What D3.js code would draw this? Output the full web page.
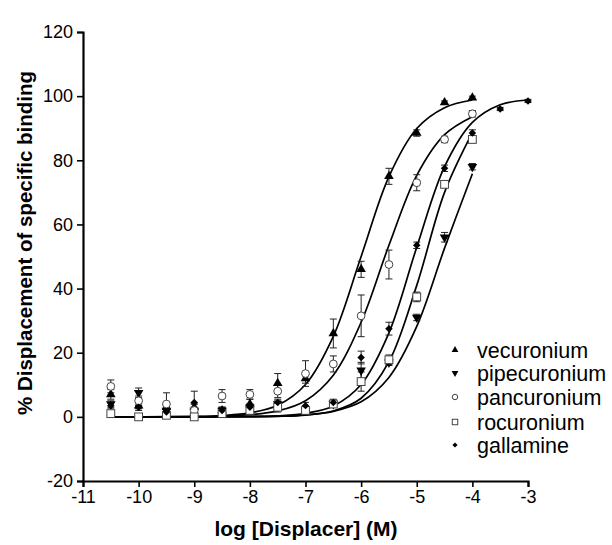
<!DOCTYPE html>
<html><head><meta charset="utf-8">
<script src="https://cdn.jsdelivr.net/npm/d3@7"></script>
<style>body{margin:0;background:#fff}svg{display:block}</style>
</head><body><svg id="c" width="612" height="545"></svg>
<script>
// ---- data ----
const xTicks = [-11,-10,-9,-8,-7,-6,-5,-4,-3];
const yTicks = [-20,0,20,40,60,80,100,120];
const logDose = [-10.5,-10,-9.5,-9,-8.5,-8,-7.5,-7,-6.5,-6,-5.5,-5,-4.5,-4];
const logDoseGall = [-10.5,-10,-9.5,-9,-8.5,-8,-7.5,-7,-6.5,-6,-5.5,-5,-4.5,-4,-3.5,-3];
const seriesNames = ["vecuronium","pipecuronium","pancuronium","rocuronium","gallamine"];

const vecuronium    = [7,3.5,3,3,2,4,10.5,12,26,46,75,88.5,98,99.5];
const vecuroniumErr = [1.5,1,1,1,1,1.5,3,1.5,4.5,2.5,2.5,1,0.5,0.5];
const pipecuronium    = [4,7.5,2,2,2,3,4,2,4,14.5,17,31,56,78];
const pipecuroniumErr = [1,1.5,1,1,1,1,1,1,1,2.5,1,1,1.5,1];
const pancuronium    = [9.5,5,4,2,6.5,7,8,13.5,16.5,31.5,47.5,73,86.5,94.5];
const pancuroniumErr = [2,1.5,3.5,2,2,1.5,2,4,2.5,6.5,4.5,2.5,1,1];
const rocuronium    = [1,0,0.5,0,1,2,3,2,4,11,17.8,37.4,72.5,86.5];
const rocuroniumErr = [0.5,0.5,0.5,0.5,0.5,1,1.5,1,1,3,1.5,1.5,1,1];
const gallamine    = [3.5,3,1.5,4.5,2,3,4.5,3.5,4.5,18.5,27.5,53.5,77.5,88.5,96,98.5];
const gallamineErr = [1,1,1,3.5,1,1,1,1,1,2,2,1,1,1,0.5,0.5];

// fitted curves, read at half-log steps
const vecuroniumFit   = [0,0.02,0.05,0.14,0.42,1.24,3.62,10.1,25.1,50,74.9,89.9,96.4,98.8];
const pipecuroniumFit = [0,0,0,0.01,0.03,0.08,0.22,0.62,1.73,4.7,12.3,28.2,52.6,75.8];
const pancuroniumFit  = [0,0.01,0.03,0.08,0.24,0.67,1.85,5.05,13.0,29.5,53.5,75.3,88.0,93.6];
const rocuroniumFit   = [0,0,0,0.01,0.02,0.05,0.17,0.55,1.82,5.8,17.2,41.0,70.0,88.6];
const gallamineFit    = [0,0.001,0.004,0.01,0.04,0.11,0.35,1.1,3.4,10.1,26.2,52.9,78,91.8,97.3,98.8];

// ---- drawing ----
const svg = d3.select("#c");
const x = d3.scaleLinear().domain([-11,-3]).range([83,528]);
const y = d3.scaleLinear().domain([-20,120]).range([481,32]);
const font = "'Liberation Sans', Arial, sans-serif";

const series = [
  {name:seriesNames[0], dose:logDose, v:vecuronium, e:vecuroniumErr, fit:vecuroniumFit, shape:"up"},
  {name:seriesNames[1], dose:logDose, v:pipecuronium, e:pipecuroniumErr, fit:pipecuroniumFit, shape:"down"},
  {name:seriesNames[2], dose:logDose, v:pancuronium, e:pancuroniumErr, fit:pancuroniumFit, shape:"circle"},
  {name:seriesNames[3], dose:logDose, v:rocuronium, e:rocuroniumErr, fit:rocuroniumFit, shape:"square"},
  {name:seriesNames[4], dose:logDoseGall, v:gallamine, e:gallamineErr, fit:gallamineFit, shape:"diamond"}
];

// axes
const xAxis = svg.append("g").attr("transform","translate(0,481)")
  .call(d3.axisBottom(x).tickValues(xTicks).tickSize(6).tickPadding(3).tickFormat(d=>d));
const yAxis = svg.append("g").attr("transform","translate(83,0)")
  .call(d3.axisLeft(y).tickValues(yTicks).tickSize(6).tickPadding(4).tickFormat(d=>d));
[xAxis,yAxis].forEach(a=>{
  a.select(".domain").attr("stroke","#000").attr("stroke-width",2.2);
  a.selectAll(".tick line").attr("stroke","#000").attr("stroke-width",1.6);
  a.selectAll(".tick text").attr("fill","#000").style("font-family",font).style("font-size","18px");
});

// axis titles
svg.append("text").attr("x",306).attr("y",536).attr("text-anchor","middle")
  .style("font-family",font).style("font-size","21px").style("font-weight","bold")
  .text("log [Displacer] (M)");
svg.append("text").attr("transform","translate(25,243) rotate(-90)").attr("text-anchor","middle")
  .attr("dy","0.35em")
  .style("font-family",font).style("font-size","20.5px").style("font-weight","bold")
  .text("% Displacement of specific binding");

// curves
const line = d3.line().x(d=>x(d[0])).y(d=>y(d[1])).curve(d3.curveCatmullRom.alpha(0.5));
series.forEach(s=>{
  svg.append("path").attr("d", line(s.dose.map((d,i)=>[d,s.fit[i]])))
    .attr("fill","none").attr("stroke","#000").attr("stroke-width",1.7);
});

// error bars
series.forEach(s=>{
  const g = svg.append("g").attr("stroke","#222").attr("stroke-width",1);
  s.dose.forEach((d,i)=>{
    const cx = x(d), lo = y(s.v[i]-s.e[i]), hi = y(s.v[i]+s.e[i]);
    g.append("line").attr("x1",cx).attr("x2",cx).attr("y1",lo).attr("y2",hi);
    g.append("line").attr("x1",cx-3.5).attr("x2",cx+3.5).attr("y1",hi).attr("y2",hi);
    g.append("line").attr("x1",cx-3.5).attr("x2",cx+3.5).attr("y1",lo).attr("y2",lo);
  });
});

// markers
function marker(g, shape, cx, cy, k){
  if(shape==="up"){
    g.append("path").attr("d",d3.symbol(d3.symbolTriangle, 40*k*k)()).attr("transform",`translate(${cx},${cy})`).attr("fill","#000");
  } else if(shape==="down"){
    g.append("path").attr("d",d3.symbol(d3.symbolTriangle, 40*k*k)()).attr("transform",`translate(${cx},${cy}) rotate(180)`).attr("fill","#000");
  } else if(shape==="circle"){
    g.append("circle").attr("cx",cx).attr("cy",cy).attr("r",3.9*k).attr("fill","#fff").attr("stroke","#444").attr("stroke-width",1);
  } else if(shape==="square"){
    g.append("rect").attr("x",cx-3.9*k).attr("y",cy-3.9*k).attr("width",7.8*k).attr("height",7.8*k).attr("fill","#fff").attr("stroke","#444").attr("stroke-width",1);
  } else {
    g.append("path").attr("d",d3.symbol(d3.symbolSquare, 28*k*k)()).attr("transform",`translate(${cx},${cy}) rotate(45)`).attr("fill","#000");
  }
}
series.forEach(s=>{
  const g = svg.append("g");
  s.dose.forEach((d,i)=>marker(g, s.shape, x(d), y(s.v[i]), 1));
});

// legend
const legY = [350,373,397,422,445];
series.forEach((s,i)=>{
  const g = svg.append("g");
  marker(g, s.shape, 455, legY[i], 0.7);
  g.append("text").attr("x",477).attr("y",legY[i]).attr("dy","0.35em")
    .style("font-family",font).style("font-size","21.5px").text(s.name);
});
</script></body></html>
